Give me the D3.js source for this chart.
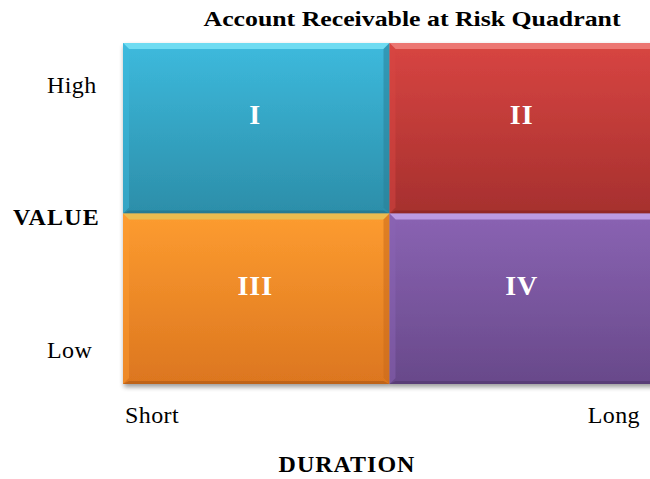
<!DOCTYPE html>
<html>
<head>
<meta charset="utf-8">
<script src="https://cdn.jsdelivr.net/npm/d3@7"></script>
<style>
  html, body { margin: 0; padding: 0; background: #ffffff; }
  svg { display: block; }
  text { font-family: "Liberation Serif", "Times New Roman", serif; }
</style>
</head>
<body>
<svg id="chart" width="650" height="479"></svg>
<script>
// ---- data ----
const chartTitle = "Account Receivable at Risk Quadrant";
const durationLevels = ["Short", "Long"];
const valueLevels = ["High", "Low"];
const quadrantLabels = ["I", "II", "III", "IV"];
const quadrantDuration = ["Short", "Long", "Short", "Long"];
const quadrantValue = ["High", "High", "Low", "Low"];
const xAxisTitle = "DURATION";
const yAxisTitle = "VALUE";

// ---- styles ----
const quadColors = [
  { top: "#3dbadd", bottom: "#2c8ea9", hi: "#78e2f6", edge: "#2a7f98", low: "#27758c" },
  { top: "#d84542", bottom: "#a6302e", hi: "#f0807b", edge: "#9a2c2a", low: "#8d2624" },
  { top: "#fd9c30", bottom: "#dc761f", hi: "#e9c255", edge: "#c9691b", low: "#b85f18" },
  { top: "#8a63b3", bottom: "#68498a", hi: "#c3a5ea", edge: "#5e427e", low: "#553b72" }
];

const svg = d3.select("#chart");
const x = d3.scaleBand().domain(durationLevels).range([123, 656]).padding(0);
const y = d3.scaleBand().domain(valueLevels).range([43, 384]).padding(0);

const defs = svg.append("defs");
quadColors.forEach((c, i) => {
  const g = defs.append("linearGradient").attr("id", "grad" + i)
    .attr("x1", 0).attr("y1", 0).attr("x2", 0).attr("y2", 1);
  g.append("stop").attr("offset", "0%").attr("stop-color", c.top);
  g.append("stop").attr("offset", "100%").attr("stop-color", c.bottom);
});
const filt = defs.append("filter").attr("id", "shadow")
  .attr("x", "-5%").attr("y", "-5%").attr("width", "115%").attr("height", "115%");
filt.append("feGaussianBlur").attr("in", "SourceAlpha").attr("stdDeviation", 2.5).attr("result", "b");
filt.append("feOffset").attr("in", "b").attr("dx", 1).attr("dy", 3).attr("result", "o");
filt.append("feComponentTransfer").attr("in", "o").attr("result", "o2")
  .append("feFuncA").attr("type", "linear").attr("slope", 0.4);
const mrg = filt.append("feMerge");
mrg.append("feMergeNode").attr("in", "o2");
mrg.append("feMergeNode").attr("in", "SourceGraphic");

// shadow layer
const shadowLayer = svg.append("g").attr("filter", "url(#shadow)");
shadowLayer.selectAll("rect.sh")
  .data(quadrantLabels)
  .join("rect")
  .attr("class", "sh")
  .attr("x", (d, i) => x(quadrantDuration[i]))
  .attr("y", (d, i) => y(quadrantValue[i]))
  .attr("width", x.bandwidth())
  .attr("height", y.bandwidth())
  .attr("fill", (d, i) => "url(#grad" + i + ")");

// bevel edges
const bev = 6;
const bevelG = svg.append("g");
quadrantLabels.forEach((lab, i) => {
  const x0 = x(quadrantDuration[i]), y0 = y(quadrantValue[i]);
  const x1 = x0 + x.bandwidth(), y1 = y0 + y.bandwidth();
  const c = quadColors[i];
  const gq = bevelG.append("g");
  gq.append("path")
    .attr("d", `M${x0},${y0}L${x1},${y0}L${x1 - bev},${y0 + bev}L${x0 + bev},${y0 + bev}Z`)
    .attr("fill", c.hi).attr("opacity", 0.85);
  gq.append("path")
    .attr("d", `M${x0},${y0}L${x0 + bev},${y0 + bev}L${x0 + bev},${y1 - bev}L${x0},${y1}Z`)
    .attr("fill", c.top).attr("opacity", 0.5);
  gq.append("path")
    .attr("d", `M${x1},${y0}L${x1},${y1}L${x1 - bev},${y1 - bev}L${x1 - bev},${y0 + bev}Z`)
    .attr("fill", c.edge).attr("opacity", 0.55);
  gq.append("path")
    .attr("d", `M${x0},${y1}L${x0 + bev},${y1 - 3}L${x1 - bev},${y1 - 3}L${x1},${y1}Z`)
    .attr("fill", c.low).attr("opacity", 0.8);
});

// quadrant labels
svg.append("g").selectAll("text")
  .data(quadrantLabels)
  .join("text")
  .attr("x", (d, i) => x(quadrantDuration[i]) + x.bandwidth() / 2 - 1)
  .attr("y", (d, i) => y(quadrantValue[i]) + y.bandwidth() / 2 - 4)
  .attr("text-anchor", "middle")
  .attr("font-size", 28)
  .attr("font-weight", "bold")
  .attr("letter-spacing", 1)
  .attr("fill", "#ffffff")
  .text(d => d);

// title
svg.append("text")
  .attr("x", 412).attr("y", 26)
  .attr("text-anchor", "middle")
  .attr("font-size", 21).attr("font-weight", "bold").attr("fill", "#000")
  .attr("textLength", 417).attr("lengthAdjust", "spacingAndGlyphs")
  .text(chartTitle);

// y tick labels (High / Low)
svg.append("g").selectAll("text")
  .data(valueLevels)
  .join("text")
  .attr("x", 47)
  .attr("y", d => d === "High" ? y(d) + 50 : y(d) + y.bandwidth() - 26)
  .attr("font-size", 24).attr("fill", "#000")
  .attr("letter-spacing", 0.4)
  .text(d => d);

// y axis title
svg.append("text")
  .attr("x", 13).attr("y", 225)
  .attr("font-size", 24).attr("font-weight", "bold").attr("fill", "#000")
  .attr("letter-spacing", 1.2)
  .text(yAxisTitle);

// x tick labels
svg.append("g").selectAll("text")
  .data(durationLevels)
  .join("text")
  .attr("x", (d, i) => i === 0 ? x(d) + 2 : 640)
  .attr("y", 423)
  .attr("text-anchor", (d, i) => i === 0 ? "start" : "end")
  .attr("font-size", 24).attr("fill", "#000")
  .attr("letter-spacing", 0.4)
  .text(d => d);

// x axis title
svg.append("text")
  .attr("x", 347).attr("y", 472)
  .attr("text-anchor", "middle")
  .attr("font-size", 24).attr("font-weight", "bold").attr("fill", "#000")
  .attr("letter-spacing", 1)
  .text(xAxisTitle);
</script>
</body>
</html>
